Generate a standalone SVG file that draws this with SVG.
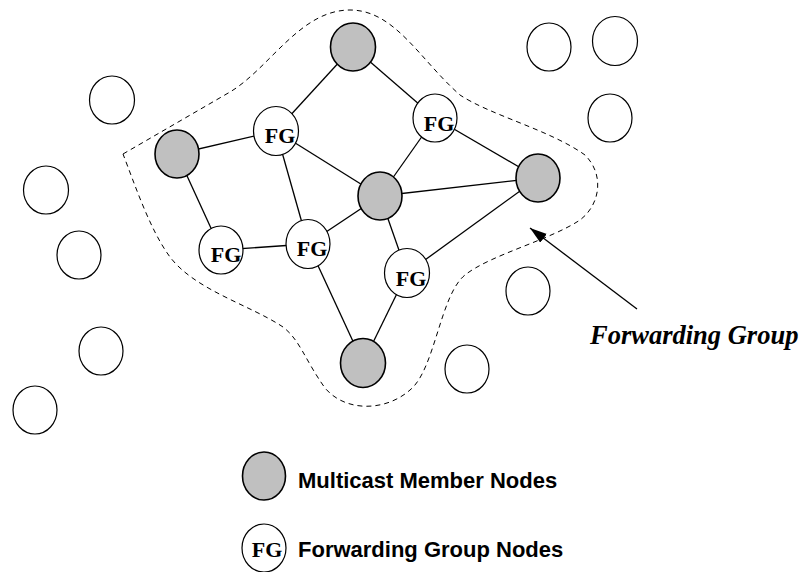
<svg xmlns="http://www.w3.org/2000/svg" width="806" height="572" viewBox="0 0 806 572">
<defs>
<style>
.e{fill:#fff;stroke:#000;stroke-width:1.2}
.m{fill:#c0c0c0;stroke:#000;stroke-width:1.6}
.f{fill:#fff;stroke:#000;stroke-width:1.2}
.fg{font-family:"Liberation Serif","Times New Roman",serif;font-weight:bold;font-size:22px;text-anchor:middle}
.lg{font-family:"Liberation Sans",Arial,sans-serif;font-weight:bold;font-size:22px}
.ln{stroke:#000;stroke-width:1.3;fill:none}
</style>
<marker id="ah" markerUnits="userSpaceOnUse" markerWidth="18" markerHeight="12" refX="17" refY="5.5" orient="auto">
<path d="M0,0 L17,5.5 L0,11 Z" fill="#000"/>
</marker>
</defs>
<rect width="806" height="572" fill="#fff"/>
<path id="boundary" d="M123,154 L230,92 C270,68 300,10 350,10 C395,10 420,60 460,95 C490,115 550,130 585,155 C605,175 600,205 580,220 C550,240 490,255 465,275 C440,295 435,370 410,390 C385,412 345,412 325,388 C305,360 300,340 283,327 C250,305 195,290 170,257 C150,230 135,185 123,154 Z" fill="none" stroke="#000" stroke-width="1" stroke-dasharray="5,4"/>
<g id="connectors">
<line class="ln" x1="353" y1="47" x2="276" y2="131"/>
<line class="ln" x1="353" y1="47" x2="435" y2="118"/>
<line class="ln" x1="177" y1="154" x2="276" y2="131"/>
<line class="ln" x1="177" y1="154" x2="221" y2="250"/>
<line class="ln" x1="276" y1="131" x2="308" y2="244"/>
<line class="ln" x1="276" y1="131" x2="380" y2="196"/>
<line class="ln" x1="435" y1="118" x2="380" y2="196"/>
<line class="ln" x1="435" y1="118" x2="538" y2="178"/>
<line class="ln" x1="380" y1="196" x2="538" y2="178"/>
<line class="ln" x1="221" y1="250" x2="308" y2="244"/>
<line class="ln" x1="308" y1="244" x2="380" y2="196"/>
<line class="ln" x1="308" y1="244" x2="363" y2="363"/>
<line class="ln" x1="380" y1="196" x2="407" y2="273"/>
<line class="ln" x1="407" y1="273" x2="538" y2="178"/>
<line class="ln" x1="407" y1="273" x2="363" y2="363"/>
<line class="ln" x1="637" y1="309" x2="530" y2="228" marker-end="url(#ah)"/>
</g>
<g id="other-nodes">
<ellipse id="o1" class="e" cx="112" cy="100" rx="22.5" ry="24"/>
<ellipse id="o2" class="e" cx="46" cy="190" rx="22.5" ry="24"/>
<ellipse id="o3" class="e" cx="79" cy="255" rx="22" ry="24"/>
<ellipse id="o4" class="e" cx="101" cy="351" rx="22" ry="24"/>
<ellipse id="o5" class="e" cx="35" cy="410" rx="22" ry="24"/>
<ellipse id="o6" class="e" cx="549" cy="47" rx="22" ry="24"/>
<ellipse id="o7" class="e" cx="615" cy="41" rx="22.5" ry="24.5"/>
<ellipse id="o8" class="e" cx="610" cy="118" rx="22" ry="24"/>
<ellipse id="o9" class="e" cx="528" cy="291" rx="22" ry="24"/>
<ellipse id="o10" class="e" cx="467" cy="369" rx="22" ry="24"/>
</g>
<g id="m1"><ellipse class="m" cx="353" cy="47" rx="22.5" ry="24"/></g>
<g id="m2"><ellipse class="m" cx="177" cy="154" rx="22" ry="24"/></g>
<g id="m3"><ellipse class="m" cx="380" cy="196" rx="22" ry="24"/></g>
<g id="m4"><ellipse class="m" cx="538" cy="178" rx="22" ry="24"/></g>
<g id="m5"><ellipse class="m" cx="363" cy="363" rx="22.5" ry="24.5"/></g>
<g id="fg1"><ellipse class="f" cx="276" cy="131" rx="22.5" ry="24.5"/><text class="fg" x="280" y="143">FG</text></g>
<g id="fg2"><ellipse class="f" cx="435" cy="118" rx="22" ry="24"/><text class="fg" x="439" y="131">FG</text></g>
<g id="fg3"><ellipse class="f" cx="221" cy="250" rx="22" ry="24"/><text class="fg" x="226" y="262">FG</text></g>
<g id="fg4"><ellipse class="f" cx="308" cy="244" rx="22" ry="24.5"/><text class="fg" x="312" y="256">FG</text></g>
<g id="fg5"><ellipse class="f" cx="407" cy="273" rx="22.5" ry="24.5"/><text class="fg" x="411" y="286">FG</text></g>
<text id="fg-label" x="590" y="344" font-family="'Liberation Serif','Times New Roman',serif" font-weight="bold" font-style="italic" font-size="26.5">Forwarding Group</text>
<g id="legend-member"><ellipse class="m" cx="264" cy="476" rx="21.5" ry="24" stroke-width="1.2"/><text class="lg" x="298" y="488">Multicast Member Nodes</text></g>
<g id="legend-fg"><ellipse class="f" cx="264" cy="548" rx="22" ry="24"/><text class="fg" x="267" y="557">FG</text><text class="lg" x="298" y="557">Forwarding Group Nodes</text></g>
</svg>
